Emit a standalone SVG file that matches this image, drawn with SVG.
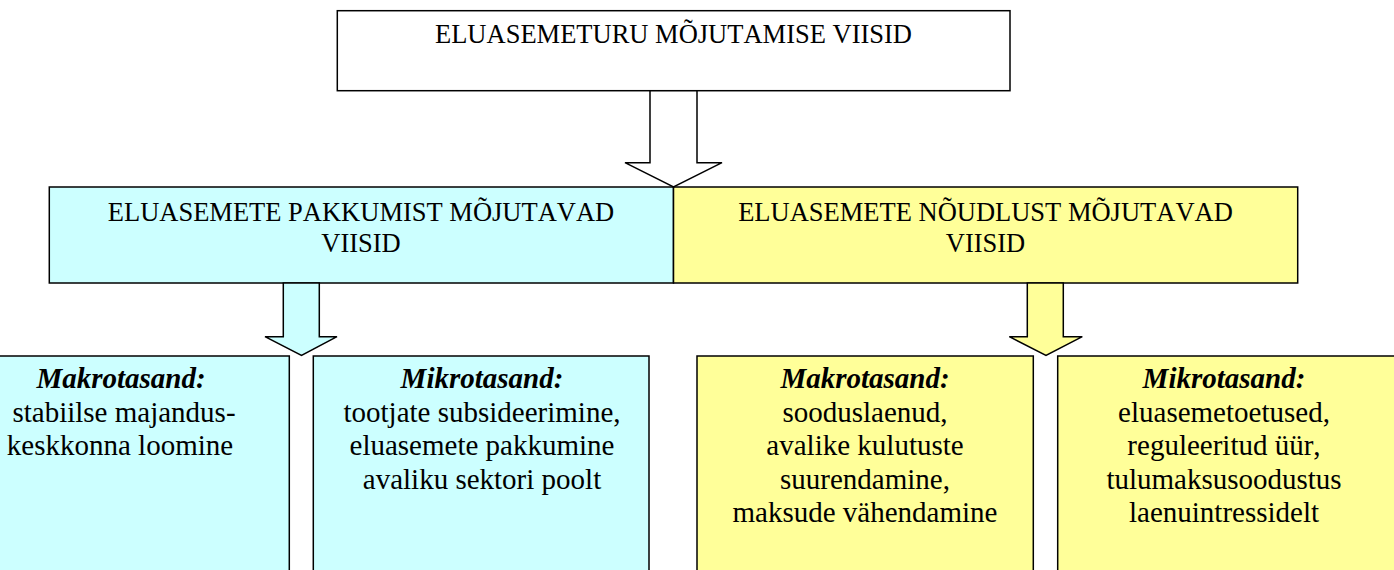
<svg xmlns="http://www.w3.org/2000/svg" width="1394" height="570" viewBox="0 0 1394 570">
<style>
.box{stroke:#000;stroke-width:1.5}
.w{fill:#fff}
.c{fill:#CCFFFF}
.y{fill:#FFFF99}
text{font-family:'Liberation Serif',Tinos,'Times New Roman',Times,'Nimbus Roman','DejaVu Serif',serif;fill:#000;text-anchor:middle;font-kerning:none}
.t1{font-size:26.5px}
.t2{font-size:29px}
.h{font-weight:bold;font-style:italic}
</style>
<g id="root">
<rect class="box w" x="337.3" y="10.7" width="672.7" height="80"/>
<text class="t1" x="673.5" y="43">ELUASEMETURU MÕJUTAMISE VIISID</text>
</g>
<g id="supply">
<rect class="box c" x="49.3" y="187" width="624.2" height="96"/>
<text class="t1" x="361" y="220.7">ELUASEMETE PAKKUMIST MÕJUTAVAD</text>
<text class="t1" x="361" y="251.7">VIISID</text>
</g>
<g id="demand">
<rect class="box y" x="673.5" y="187" width="624.2" height="96"/>
<text class="t1" x="985.5" y="220.7">ELUASEMETE NÕUDLUST MÕJUTAVAD</text>
<text class="t1" x="985.5" y="251.7">VIISID</text>
</g>
<g id="connectors">
<polygon class="box w" points="650,90.7 697,90.7 697,162.7 722,162.7 673.5,187 625,162.7 650,162.7"/>
<polygon class="box c" points="283.3,283 319.3,283 319.3,336.7 337,336.7 301.5,355.5 265,336.7 283.3,336.7"/>
<polygon class="box y" points="1027.3,283 1063.3,283 1063.3,336.7 1082.3,336.7 1046,355.5 1009.3,336.7 1027.3,336.7"/>
</g>
<g id="supply-macro">
<rect class="box c" x="-5" y="356" width="294.3" height="230"/>
<text class="t2 h" x="121" y="388">Makrotasand:</text>
<text class="t2" x="124" y="421.5">stabiilse majandus-</text>
<text class="t2" x="120" y="455">keskkonna loomine</text>
</g>
<g id="supply-micro">
<rect class="box c" x="313.3" y="356" width="335.7" height="230"/>
<text class="t2 h" x="482" y="388">Mikrotasand:</text>
<text class="t2" x="482" y="421.5">tootjate subsideerimine,</text>
<text class="t2" x="482" y="455">eluasemete pakkumine</text>
<text class="t2" x="482" y="488.5">avaliku sektori poolt</text>
</g>
<g id="demand-macro">
<rect class="box y" x="697" y="356" width="336.3" height="230"/>
<text class="t2 h" x="865" y="388">Makrotasand:</text>
<text class="t2" x="865" y="421.5">sooduslaenud,</text>
<text class="t2" x="865" y="455">avalike kulutuste</text>
<text class="t2" x="865" y="488.5">suurendamine,</text>
<text class="t2" x="865" y="522">maksude vähendamine</text>
</g>
<g id="demand-micro">
<rect class="box y" x="1057.7" y="356" width="345" height="230"/>
<text class="t2 h" x="1224" y="388">Mikrotasand:</text>
<text class="t2" x="1224" y="421.5">eluasemetoetused,</text>
<text class="t2" x="1224" y="455">reguleeritud üür,</text>
<text class="t2" x="1224" y="488.5">tulumaksusoodustus</text>
<text class="t2" x="1224" y="522">laenuintressidelt</text>
</g>
</svg>
